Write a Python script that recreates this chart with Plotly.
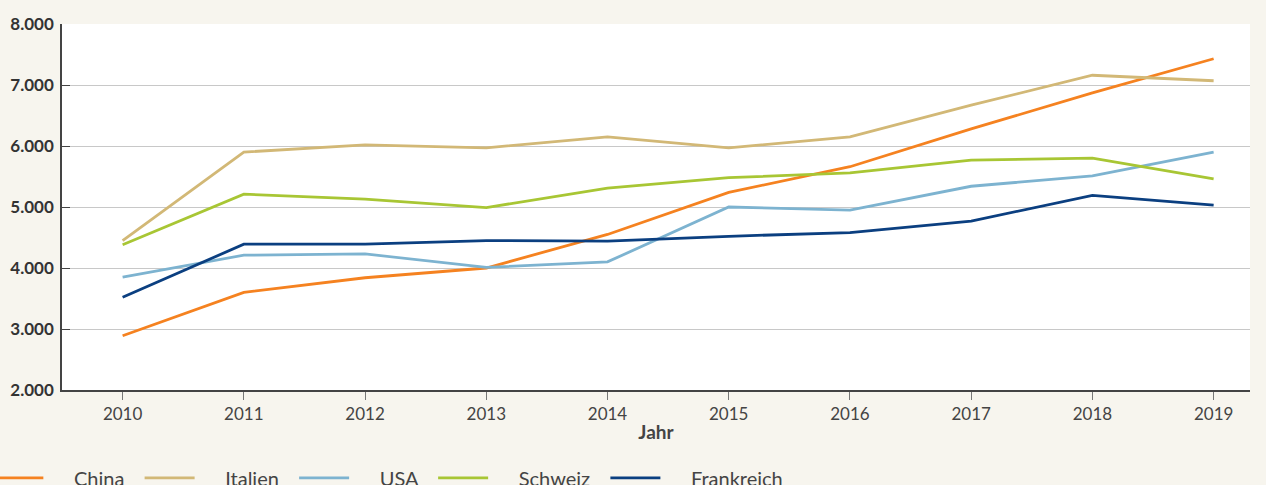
import plotly.graph_objects as go

# data
years = [2010, 2011, 2012, 2013, 2014, 2015, 2016, 2017, 2018, 2019]
china = [2890, 3600, 3840, 4000, 4550, 5240, 5660, 6280, 6870, 7430]
italien = [4450, 5900, 6020, 5970, 6150, 5970, 6150, 6670, 7160, 7070]
usa = [3850, 4210, 4230, 4010, 4100, 5000, 4950, 5340, 5510, 5900]
schweiz = [4380, 5210, 5130, 4990, 5310, 5480, 5560, 5770, 5800, 5460]
frankreich = [3520, 4390, 4390, 4450, 4440, 4520, 4580, 4770, 5190, 5030]

series = [
    ('China', china, '#f58220'),
    ('Italien', italien, '#d2b876'),
    ('USA', usa, '#7db3d0'),
    ('Schweiz', schweiz, '#a8c634'),
    ('Frankreich', frankreich, '#0b3f80'),
]

# padding so the legend spacing looks like the original
pad_l = '\u00a0' * 5
pad_r = '\u00a0' * 2

fig = go.Figure()
for name, vals, col in series:
    fig.add_trace(go.Scatter(
        x=years, y=vals, mode='lines', name=pad_l + name + pad_r,
        line=dict(color=col, width=2.8),
        hovertemplate=name + ': %{y:,d}<extra></extra>',
    ))

fig.update_layout(
    width=1266, height=485,
    margin=dict(l=62, r=16, t=24, b=95, autoexpand=False),
    paper_bgcolor='#f7f5ee',
    plot_bgcolor='white',
    font=dict(family='Lato', color='#444444', size=17),
    separators=',.',
    showlegend=True,
    legend=dict(
        orientation='h', x=-0.062, xanchor='left', y=-0.24, yanchor='middle',
        font=dict(size=20, color='#444444'),
        bgcolor='rgba(0,0,0,0)', itemwidth=50,
    ),
    xaxis=dict(
        range=[2009.5, 2019.3], tickmode='array', tickvals=years,
        showgrid=False, showline=True, linecolor='#444444', linewidth=1.5,
        ticks='outside', ticklen=8, tickcolor='#777777',
        tickfont=dict(size=17, color='#444444'),
        title=dict(text='Jahr', font=dict(size=19, color='#444444', weight='bold'), standoff=3),
        zeroline=False, automargin=False,
    ),
    yaxis=dict(
        range=[2000, 8000], dtick=1000, tickformat=',d',
        showgrid=True, gridcolor='#c8c8c8', gridwidth=1,
        showline=True, linecolor='#444444', linewidth=1.5,
        ticks='inside', ticklen=8, tickcolor='#444444', ticklabelstandoff=3,
        tickfont=dict(size=17, color='#333333', weight='bold'),
        zeroline=False, automargin=False,
    ),
)

# page has a default body margin; drop it so the figure sits at 0,0
fig.write_html("out.html", config={'displayModeBar': False},
               post_script="document.body.style.margin='0';")
